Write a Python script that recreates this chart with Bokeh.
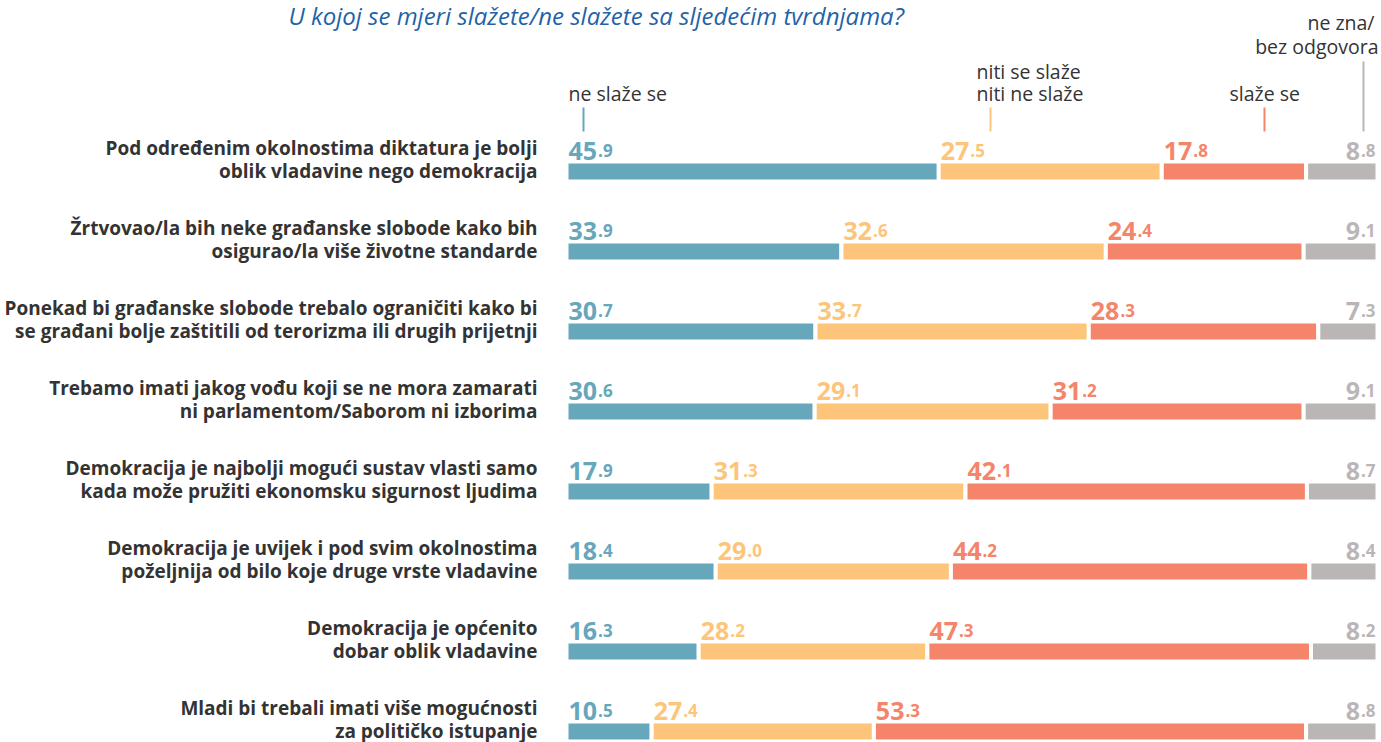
import numpy as np
from bokeh.plotting import figure
from bokeh.models import Range1d, ColumnDataSource
from bokeh.core.properties import value
from bokeh.embed import file_html
from bokeh.resources import INLINE

# ---------------- data ----------------
title = "U kojoj se mjeri slažete/ne slažete sa sljedećim tvrdnjama?"
statements = [
    ("Pod određenim okolnostima diktatura je bolji", "oblik vladavine nego demokracija"),
    ("Žrtvovao/la bih neke građanske slobode kako bih", "osigurao/la više životne standarde"),
    ("Ponekad bi građanske slobode trebalo ograničiti kako bi", "se građani bolje zaštitili od terorizma ili drugih prijetnji"),
    ("Trebamo imati jakog vođu koji se ne mora zamarati", "ni parlamentom/Saborom ni izborima"),
    ("Demokracija je najbolji mogući sustav vlasti samo", "kada može pružiti ekonomsku sigurnost ljudima"),
    ("Demokracija je uvijek i pod svim okolnostima", "poželjnija od bilo koje druge vrste vladavine"),
    ("Demokracija je općenito", "dobar oblik vladavine"),
    ("Mladi bi trebali imati više mogućnosti", "za političko istupanje"),
]
ne_slaze = [45.9, 33.9, 30.7, 30.6, 17.9, 18.4, 16.3, 10.5]
niti = [27.5, 32.6, 33.7, 29.1, 31.3, 29.0, 28.2, 27.4]
slaze = [17.8, 24.4, 28.3, 31.2, 42.1, 44.2, 47.3, 53.3]
ne_zna = [8.8, 9.1, 7.3, 9.1, 8.7, 8.4, 8.2, 8.8]
series_labels = [["ne slaže se"], ["niti se slaže", "niti ne slaže"], ["slaže se"], ["ne zna/", "bez odgovora"]]
colors = ["#66a7bc", "#fdc57a", "#f4856a", "#bab6b5"]

# ---------------- layout ----------------
W, H = 1381, 742
X0 = 566.0          # screen x of 0 %
PX = 8.11           # px per percent
Y0 = 171.0          # screen y of first row centre
ROW = 80.0          # px per row
FONT = "Open Sans"

def sx(px):  # screen x -> data x
    return (px - X0) / PX

def sy(py):  # screen y -> data y
    return (py - Y0) / ROW

p = figure(width=W, height=H, output_backend="svg", toolbar_location=None,
           x_range=Range1d(-X0 / PX, (W - X0) / PX),
           y_range=Range1d((H - Y0) / ROW, -Y0 / ROW),
           min_border=0, outline_line_color=None)
p.axis.visible = False
p.grid.visible = False
p.background_fill_color = "white"
p.border_fill_color = "white"

n = len(statements)
rows = list(range(n))
series = [ne_slaze, niti, slaze, ne_zna]

lefts = np.zeros(n)
seg_bounds = []
for vals, col in zip(series, colors):
    vals = np.array(vals)
    rights = lefts + vals
    src = ColumnDataSource(dict(y=rows, left=lefts.copy(), right=rights.copy()))
    p.hbar(y="y", left="left", right="right", height=20 / ROW, source=src,
           fill_color=col, line_color="white", line_width=4)
    seg_bounds.append((lefts.copy(), rights.copy(), vals))
    lefts = rights

# numbers
DIG_BIG = 25
DIG_SMALL = 17
NUM_DY = -21
for k, ((l, r, vals), col) in enumerate(zip(seg_bounds, colors)):
    ints = [f"{v:.1f}".split(".")[0] for v in vals]
    decs = ["." + f"{v:.1f}".split(".")[1] for v in vals]
    if k < 3:
        src = ColumnDataSource(dict(x=l, y=rows, t=ints,
                                    off=[3 + len(s) * 0.572 * DIG_BIG for s in ints], d=decs))
        p.text(x="x", y="y", text="t", source=src, text_font=value(FONT), text_font_style="bold",
               text_font_size=f"{DIG_BIG}px", text_color=col, text_align="left",
               text_baseline="alphabetic", x_offset=2, y_offset=NUM_DY)
        p.text(x="x", y="y", text="d", source=src, text_font=value(FONT), text_font_style="bold",
               text_font_size=f"{DIG_SMALL}px", text_color=col, text_align="left",
               text_baseline="alphabetic", x_offset="off", y_offset=NUM_DY)
    else:
        dec_w = (0.285 + 0.572) * DIG_SMALL + 1
        src = ColumnDataSource(dict(x=r, y=rows, t=ints, d=decs))
        p.text(x="x", y="y", text="t", source=src, text_font=value(FONT), text_font_style="bold",
               text_font_size=f"{DIG_BIG}px", text_color=col, text_align="right",
               text_baseline="alphabetic", x_offset=-2 - dec_w, y_offset=NUM_DY)
        p.text(x="x", y="y", text="d", source=src, text_font=value(FONT), text_font_style="bold",
               text_font_size=f"{DIG_SMALL}px", text_color=col, text_align="right",
               text_baseline="alphabetic", x_offset=-2, y_offset=NUM_DY)

# statement labels
lab_src = ColumnDataSource(dict(x=[sx(537)] * n, y=rows,
                                l1=[s[0] for s in statements], l2=[s[1] for s in statements]))
for col_name, off in (("l1", -24), ("l2", -1)):
    p.text(x="x", y="y", text=col_name, source=lab_src, text_font=value(FONT),
           text_font_style="bold", text_font_size="19px", text_color="#333333",
           text_align="right", text_baseline="middle", y_offset=off)

# title
p.text(x=[sx(288)], y=[sy(15)], text=[title], text_font=value(FONT), text_font_style="italic",
       text_font_size="24px", text_color="#1f63a8", text_align="left", text_baseline="middle")

# legend headings
leg_pos = [
    [(568, 93, "left")],
    [(976, 71, "left"), (976, 93, "left")],
    [(1229, 93, "left")],
    [(1374, 22, "right"), (1378, 46, "right")],
]
tick_x = [583, 990, 1264, 1363]
tick_top = [107, 107, 107, 61]
for labels, pos, col, tx, tt in zip(series_labels, leg_pos, colors, tick_x, tick_top):
    for lab, (x, y, al) in zip(labels, pos):
        p.text(x=[sx(x)], y=[sy(y)], text=[lab], text_font=value(FONT), text_font_size="19.5px",
               text_color="#333333", text_align=al, text_baseline="middle")
    p.segment(x0=[sx(tx)], y0=[sy(tt)], x1=[sx(tx)], y1=[sy(131)], line_color=col, line_width=2)

open("out.html", "w").write(file_html(p, INLINE))
